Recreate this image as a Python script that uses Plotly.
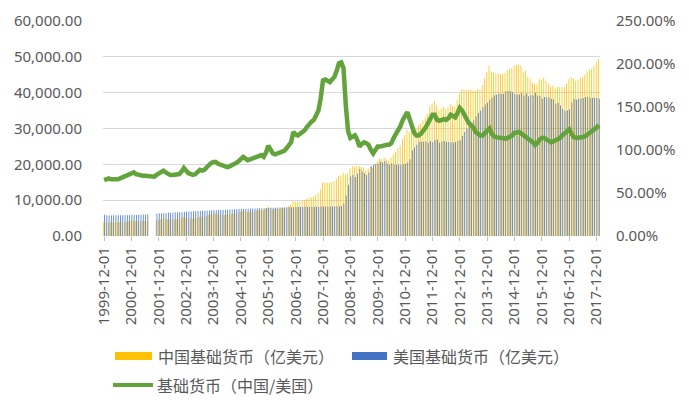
import pandas as pd
import plotly.graph_objects as go

months = [d.strftime("%Y-%m-%d") for d in pd.date_range("1999-12-01", periods=218, freq="MS")]

# 美国基础货币（亿美元）
us_base = [5940,
    5800, 5720, 5730, 5760, 5770, 5790, 5810, 5810, 5800, 5810, 5850, 5900,
    5880, 5870, 5900, 5950, 5990, 6020, 6060, None, None, None, 6250, 6320,
    6350, 6380, 6420, 6470, 6520, 6560, 6600, 6620, 6640, 6660, 6720, 6810,
    6840, 6870, 6900, 6930, 6960, 7010, 7040, 7070, 7080, 7100, 7160, 7200,
    7210, 7230, 7250, 7300, 7340, 7380, 7400, 7420, 7440, 7460, 7520, 7590,
    7580, 7590, 7610, 7640, 7650, 7680, 7710, 7720, 7730, 7750, 7800, 7860,
    7870, 7880, 7890, 7920, 7940, 7950, 7970, 7980, 7990, 8000, 8050, 8120,
    8110, 8110, 8120, 8130, 8140, 8150, 8150, 8160, 8170, 8190, 8220, 8250,
    8260, 8240, 8250, 8260, 8270, 8290, 8320, 8350, 9050, 11300, 14300, 16600,
    17000, 16500, 17400, 18800, 18000, 17500, 17000, 17800, 19500, 19800, 20100, 20200,
    20800, 20500, 20900, 20200, 19900, 20300, 19900, 19900, 19900, 19800, 20000, 20100,
    20500, 21400, 23900, 24700, 25500, 26400, 26300, 26400, 26400, 26000, 26500, 26200,
    26800, 26900, 26100, 26400, 26500, 26200, 26200, 26100, 26100, 26200, 26500, 26700,
    28000, 29000, 30000, 31000, 31700, 32300, 33400, 34400, 35000, 36000, 36700, 37200,
    38000, 38600, 39300, 39400, 39800, 39600, 39700, 40300, 40500, 40400, 40100, 39600,
    39500, 39500, 40000, 39200, 39800, 39000, 39300, 39300, 40000, 39200, 39100, 38300,
    38800, 38700, 38700, 38300, 38100, 37000, 37200, 36400, 35500, 34900, 35100, 35400,
    37300, 38200, 38000, 38300, 38400, 38500, 38800, 38800, 38600, 38500, 38600, 38500,
    38300]

# 中国基础货币（亿美元）
cn_base = [3860,
    3830, 3830, 3780, 3800, 3750, 3820, 3890, 3950, 4000, 4070, 4210, 4310,
    4350, 4230, 4190, 4220, 4190, 4210, 4240, None, None, None, 4440, 4610,
    4760, 4850, 4750, 4660, 4630, 4660, 4690, 4700, 4780, 5000, 5310, 5180,
    4990, 4950, 4900, 4990, 5150, 5400, 5350, 5440, 5660, 5890, 6090, 6190,
    6200, 6070, 6020, 5910, 5870, 5900, 5990, 6080, 6250, 6340, 6540, 6830,
    6970, 6830, 6700, 6800, 6890, 6990, 7090, 7180, 7270, 7130, 7570, 8250,
    7870, 7560, 7500, 7600, 7620, 7710, 7890, 8140, 8390, 8720, 9740, 9580,
    9490, 9650, 9830, 10000, 10340, 10680, 10840, 11020, 11440, 11960, 13150, 14930,
    15030, 14830, 14770, 15030, 15300, 15920, 16720, 16870, 17650, 17180, 17450, 18920,
    19550, 19310, 19490, 19550, 19260, 19080, 18360, 18870, 19500, 19010, 20100, 21010,
    21630, 21530, 21950, 21410, 21090, 21920, 22690, 23480, 24480, 25340, 27000, 28140,
    29520, 29100, 30110, 29640, 29840, 30890, 31300, 32210, 33260, 34060, 36040, 36940,
    37790, 36320, 34970, 35640, 36040, 35370, 35890, 36800, 36280, 36160, 37900, 39780,
    40880, 40890, 40800, 40610, 40890, 40700, 40410, 40940, 40950, 42120, 44040, 45760,
    47500, 45930, 45590, 45310, 45370, 45140, 45260, 45540, 46170, 46460, 46920, 47520,
    47800, 47800, 47600, 45860, 46170, 44460, 44020, 42840, 42400, 42340, 43790, 43660,
    44230, 43340, 42570, 41750, 41910, 41070, 41660, 41500, 41540, 41530, 42470, 43900,
    44390, 43930, 43320, 43660, 44160, 44280, 45010, 45780, 46320, 46590, 47480, 48510,
    49410]

# 基础货币（中国/美国），%
ratio_pct = [65,
    66, 67, 66, 66, 65, 66, 67, 68, 69, 70, 72, 73,
    74, 72, 71, 71, 70, 70, 70, 69, 69, 69, 71, 73,
    75, 76, 74, 72, 71, 71, 71, 71, 72, 75, 79, 76,
    73, 72, 71, 72, 74, 77, 76, 77, 80, 83, 85, 86,
    86, 84, 83, 81, 80, 80, 81, 82, 84, 85, 87, 90,
    92, 90, 88, 89, 90, 91, 92, 93, 94, 92, 97, 105,
    100, 96, 95, 96, 96, 97, 99, 102, 105, 109, 121, 118,
    117, 119, 121, 123, 127, 131, 133, 135, 140, 146, 160, 181,
    182, 180, 179, 182, 185, 192, 201, 202, 195, 152, 122, 114,
    115, 117, 112, 104, 107, 109, 108, 106, 100, 96, 100, 104,
    104, 105, 105, 106, 106, 108, 114, 118, 123, 128, 135, 140,
    144, 136, 126, 120, 117, 117, 119, 122, 126, 131, 136, 141,
    141, 135, 134, 135, 136, 135, 137, 141, 139, 138, 143, 149,
    146, 141, 136, 131, 129, 126, 121, 119, 117, 117, 120, 123,
    125, 119, 116, 115, 114, 114, 114, 113, 114, 115, 117, 120,
    121, 121, 119, 117, 116, 114, 112, 109, 106, 108, 112, 114,
    114, 112, 110, 109, 110, 111, 112, 114, 117, 119, 121, 124,
    119, 115, 114, 114, 115, 115, 116, 118, 120, 121, 123, 126,
    129]

tick_labels = [m for m in months if m.endswith("-12-01")]

YELLOW = "#FFC000"
BLUE = "#4472C4"
GREEN = "#62A33B"
GRAY_TXT = "#595959"
NUM_FONT = "Noto Sans"
CJK_FONT = "Noto Sans CJK SC"

fig = go.Figure()
fig.add_trace(go.Bar(x=months, y=cn_base, name="中国基础货币（亿美元）",
                     marker=dict(color=YELLOW, line=dict(width=0)), showlegend=False))
fig.add_trace(go.Bar(x=months, y=us_base, name="美国基础货币（亿美元）",
                     marker=dict(color=BLUE, line=dict(width=0)), showlegend=False))
fig.add_trace(go.Scatter(x=months, y=ratio_pct, name="基础货币（中国/美国）", yaxis="y2",
                         mode="lines", line=dict(color=GREEN, width=4.5), showlegend=False))

fig.update_layout(
    width=689, height=414,
    margin=dict(l=103, r=89, t=21, b=178),
    paper_bgcolor="white", plot_bgcolor="white",
    barmode="group", bargap=0.33, bargroupgap=0,
    font=dict(family=NUM_FONT, color=GRAY_TXT, size=15),
    xaxis=dict(type="category", categoryorder="array", categoryarray=months,
               tickmode="array", tickvals=tick_labels, ticktext=tick_labels,
               tickangle=-90, ticks="outside", ticklen=4, tickcolor="#BFBFBF",
               showgrid=False, showline=False, zeroline=False, automargin=False,
               tickfont=dict(family=NUM_FONT, size=15, color=GRAY_TXT)),
    yaxis=dict(range=[0, 60000], tickvals=[0, 10000, 20000, 30000, 40000, 50000, 60000],
               tickformat=",.2f", showgrid=True, gridcolor="#D9D9D9", gridwidth=1,
               zeroline=False, showline=False, automargin=False, ticklabelstandoff=20,
               tickfont=dict(family=NUM_FONT, size=15, color=GRAY_TXT)),
    yaxis2=dict(range=[0, 250], tickvals=[0, 50, 100, 150, 200, 250],
                ticktext=["0.00%", "50.00%", "100.00%", "150.00%", "200.00%", "250.00%"],
                overlaying="y", side="right", showgrid=False, zeroline=False,
                showline=False, automargin=False, ticklabelstandoff=15,
                tickfont=dict(family=NUM_FONT, size=15, color=GRAY_TXT)),
)

# custom legend (swatches + real text)
def px_x(X):
    return (X - 103) / 497.0

def px_y(Y):
    return (236 - Y) / 215.0

shapes = [
    dict(type="rect", xref="paper", yref="paper", x0=px_x(115), x1=px_x(152),
         y0=px_y(360), y1=px_y(352), fillcolor=YELLOW, line=dict(width=0)),
    dict(type="rect", xref="paper", yref="paper", x0=px_x(352), x1=px_x(387),
         y0=px_y(360), y1=px_y(352), fillcolor=BLUE, line=dict(width=0)),
    dict(type="line", xref="paper", yref="paper", x0=px_x(113), x1=px_x(153),
         y0=px_y(385), y1=px_y(385), line=dict(color=GREEN, width=4)),
]
fig.update_layout(shapes=shapes)

legend_font = dict(family=CJK_FONT, size=16, color=GRAY_TXT)
fig.add_annotation(xref="paper", yref="paper", x=px_x(156), y=px_y(356), xanchor="left",
                   yanchor="middle", text="中国基础货币（亿美元）", showarrow=False, font=legend_font)
fig.add_annotation(xref="paper", yref="paper", x=px_x(391), y=px_y(356), xanchor="left",
                   yanchor="middle", text="美国基础货币（亿美元）", showarrow=False, font=legend_font)
fig.add_annotation(xref="paper", yref="paper", x=px_x(155), y=px_y(385), xanchor="left",
                   yanchor="middle", text="基础货币（中国/美国）", showarrow=False, font=legend_font)

fig.write_html("out.html", config={"staticPlot": True})
